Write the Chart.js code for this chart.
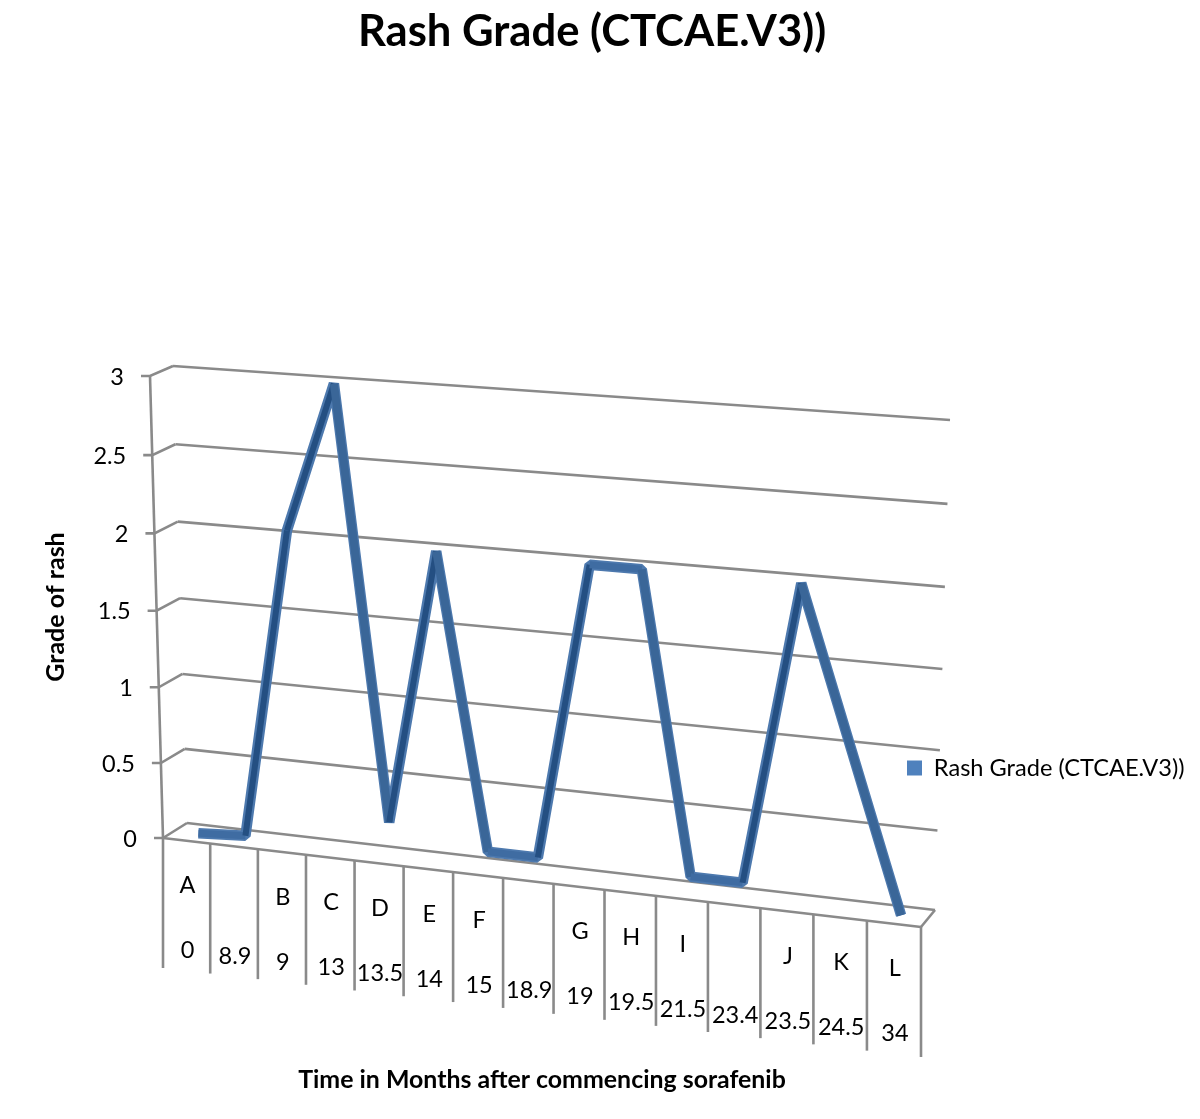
<!DOCTYPE html>
<html><head><meta charset="utf-8">
<style>html,body{margin:0;padding:0;background:#fff}canvas{display:block}</style>
<script src="https://cdn.jsdelivr.net/npm/chart.js@4"></script>
</head><body><canvas id="c" width="1200" height="1119"></canvas>
<script>
const letters = ['A','','B','C','D','E','F','','G','H','I','','J','K','L'];
const months = ['0','8.9','9','13','13.5','14','15','18.9','19','19.5','21.5','23.4','23.5','24.5','34'];
const rashGrade = [0,0.02,2.05,3,0.22,2,0.1,0.1,2,2,0.09,0.09,2,1,0];
const yTickStep = 0.5, yMax = 3;
const seriesName = 'Rash Grade (CTCAE.V3))';
const chartTitle = 'Rash Grade (CTCAE.V3))';
const xTitle = 'Time in Months after commencing sorafenib';
const yTitle = 'Grade of rash';

const FONT = 'Lato, "Open Sans", sans-serif';
const GRID = '#8a8a8a';
// perspective frame: depth 0 = back wall, depth 1 = front plane
const BACK = {bl:[187,823], br:[935,910], tl:[173,366], tr:[950,420]};
const FRONT = {bl:[163,838], br:[921,927], tl:[150,376], tr:[936,437]};
const warp = (t,r)=> r*t/(1+(r-1)*t);
function proj(u,v,d){
  const a = warp(u,0.93), b = warp(v,0.968);
  const mix=(k)=>{
    const c = (n)=>BACK[n][k]*(1-d)+FRONT[n][k]*d;
    const l = c('bl')+(c('tl')-c('bl'))*b, r = c('br')+(c('tr')-c('br'))*b;
    return l+(r-l)*a;
  };
  return [mix(0),mix(1)];
}
const uOf=(x,px)=>(px-x.left)/(x.right-x.left);
const vOf=(y,py)=>(y.bottom-py)/(y.bottom-y.top);
function seg(ctx,a,b){ctx.beginPath();ctx.moveTo(a[0],a[1]);ctx.lineTo(b[0],b[1]);ctx.stroke();}

const perspective = {
  id:'perspective',
  afterDatasetsUpdate(chart){
    const {x,y}=chart.scales;
    chart.getDatasetMeta(0).data.forEach(pt=>{
      const p=proj(uOf(x,pt.x),vOf(y,pt.y),0.5);
      pt.x=p[0];pt.y=p[1];
    });
  },
  beforeDraw(chart){
    const lg=chart.legend;
    lg.left=899;lg.right=1195;lg.top=752;lg.bottom=784;
    const t=chart.titleBlock;
    t.left=0;t.right=1184;
  },
  beforeDatasetsDraw(chart){
    const {ctx,scales:{x,y}}=chart;
    ctx.save();
    ctx.strokeStyle=GRID;ctx.lineWidth=2.6;ctx.lineCap='butt';
    // value grid on back wall and side wall, tick marks, y labels
    y.ticks.forEach((tk,i)=>{
      const v=vOf(y,y.getPixelForTick(i));
      const f=proj(0,v,1), b=proj(0,v,0), e=proj(1,v,0);
      if(i>0) seg(ctx,b,e);
      ctx.beginPath();ctx.moveTo(f[0]-9,f[1]);ctx.lineTo(f[0],f[1]);ctx.lineTo(b[0],b[1]);ctx.stroke();
      ctx.fillStyle='#000';ctx.font='23.5px '+FONT;ctx.textAlign='right';ctx.textBaseline='middle';
      ctx.fillText(String(tk.label),f[0]-26,f[1]+1);
    });
    seg(ctx,proj(0,0,1),proj(0,1,1));
    // floor
    seg(ctx,proj(0,0,0),proj(1,0,0));
    seg(ctx,proj(0,0,1),proj(1,0,1));
    seg(ctx,proj(1,0,1),proj(1,0,0));
    // category separators
    const n=chart.data.labels.length, band=(x.right-x.left)/n;
    for(let i=0;i<=n;i++){
      const p=proj(uOf(x,x.getPixelForTick(0)-band/2+i*band),0,1);
      seg(ctx,p,[p[0],p[1]+130]);
    }
    // category labels
    ctx.fillStyle='#000';ctx.font='23.5px '+FONT;ctx.textAlign='center';ctx.textBaseline='middle';
    chart.data.labels.forEach((lab,i)=>{
      const p=proj(uOf(x,x.getPixelForTick(i)),0,1);
      if(lab[0]) ctx.fillText(lab[0],p[0]+1,p[1]+45);
      ctx.fillText(lab[1],p[0]+1,p[1]+110);
    });
    ctx.restore();
  },
  afterDatasetsDraw(chart){
    const {ctx}=chart, pts=chart.getDatasetMeta(0).data;
    ctx.save();ctx.lineCap='butt';
    for(let i=0;i<pts.length-1;i++){
      const a=pts[i],b=pts[i+1],dy=b.y-a.y;
      const up=dy<-60, down=dy>60;
      ctx.strokeStyle=up?'#244f82':down?'#3a6698':'#3f6ca2';
      ctx.lineWidth=up?6:down?8:7;
      seg(ctx,[a.x,a.y],[b.x,b.y]);
    }
    ctx.restore();
  }
};

new Chart(document.getElementById('c'),{
  type:'line',
  data:{
    labels:letters.map((l,i)=>[l,months[i]]),
    datasets:[{label:seriesName,data:rashGrade,borderColor:'#4d79ae',backgroundColor:'#4f81bd',
      borderWidth:10.5,borderJoinStyle:'bevel',borderCapStyle:'butt',pointRadius:0,tension:0,clip:false}]
  },
  options:{
    responsive:false,animation:false,
    layout:{padding:{left:40,right:279,top:0,bottom:0}},
    plugins:{
      title:{display:true,text:chartTitle,color:'#000',font:{family:FONT,size:43.6,weight:'bold'},padding:{top:6,bottom:317.7}},
      legend:{position:'chartArea',align:'center',labels:{
        font:{family:FONT,size:23.6},color:'#000',boxWidth:15,boxHeight:15,padding:8,
        generateLabels:(ch)=>[{text:ch.data.datasets[0].label,fillStyle:'#4f81bd',strokeStyle:'#4f81bd',lineWidth:0,datasetIndex:0,hidden:false}]
      }},
      tooltip:{enabled:false}
    },
    scales:{
      x:{offset:true,border:{display:false},grid:{display:false},ticks:{display:false},
        afterFit:s=>{s.height=281;},
        title:{display:true,text:xTitle,color:'#000',font:{family:FONT,size:24.9,weight:'bold'},padding:{top:0,bottom:24}}},
      y:{min:0,max:yMax,border:{display:false},grid:{display:false},
        ticks:{display:false,stepSize:yTickStep,callback:v=>String(v)},
        afterFit:s=>{s.width=123;},
        title:{display:true,text:yTitle,color:'#000',font:{family:FONT,size:25,weight:'bold'},padding:{top:1,bottom:0}}}
    }
  },
  plugins:[perspective]
});
</script></body></html>
